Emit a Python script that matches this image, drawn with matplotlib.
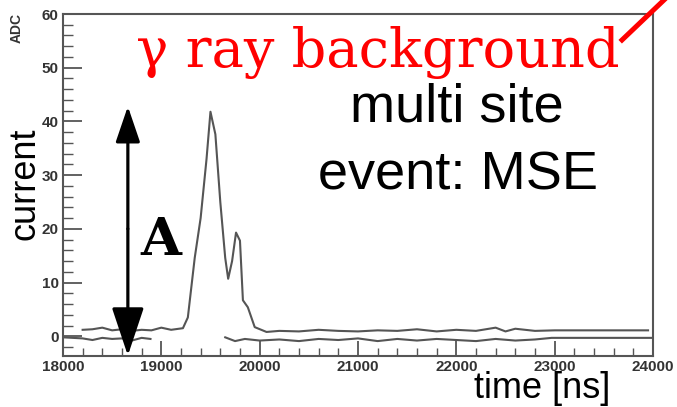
import matplotlib.pyplot as plt
from matplotlib.ticker import MultipleLocator

# signal trace (upper)
t_up = [18200, 18300, 18400, 18500, 18600, 18700, 18800, 18900, 19000, 19100, 19220, 19270,
        19340, 19400, 19460, 19500, 19550, 19600, 19650, 19680, 19720, 19760, 19800, 19830,
        19880, 19950, 20070, 20200, 20400, 20600, 20800, 21000,
        21200, 21400, 21600, 21800, 22000, 22200, 22400, 22500, 22600, 22800, 23000, 23080,
        23950]
v_up = [1.2, 1.3, 1.6, 1.1, 1.3, 1.0, 1.2, 1.1, 1.6, 1.2, 1.5, 3.5,
        14.6, 22.0, 33.0, 41.8, 37.6, 25.0, 14.6, 10.7, 14.0, 19.3, 17.8, 6.7,
        5.4, 1.7, 0.8, 1.0, 0.9, 1.2, 1.0, 0.9,
        1.1, 1.0, 1.3, 0.9, 1.2, 1.0, 1.6, 0.9, 1.4, 1.0, 1.1, 1.1,
        1.1]

# baseline trace (lower), two segments
t_lo1 = [18000, 18100, 18200, 18300, 18400, 18500, 18600, 18700, 18800, 18890]
v_lo1 = [-0.2, -0.3, -0.4, -0.7, -0.3, -0.5, -0.4, -0.8, -0.3, -0.5]
t_lo2 = [19650, 19750, 19850, 20000, 20200, 20400, 20600, 20800, 21000, 21200, 21400,
         21600, 21800, 22000, 22200, 22400, 22600, 22800, 22970, 24000]
v_lo2 = [-0.2, -0.9, -0.5, -0.8, -0.6, -0.9, -0.5, -0.7, -0.4, -0.9, -0.5,
         -0.8, -0.5, -0.7, -0.9, -0.5, -0.8, -0.6, -0.3, -0.3]

fig = plt.figure(figsize=(6.77, 4.07), dpi=100)
ax = fig.add_axes([0.093, 0.125, 0.8715, 0.8406])

line_c = '#555555'
ax.plot(t_up, v_up, color=line_c, lw=1.5)
ax.plot(t_lo1, v_lo1, color=line_c, lw=1.5)
ax.plot(t_lo2, v_lo2, color=line_c, lw=1.5)

ax.set_xlim(18000, 24000)
ax.set_ylim(-3.7, 60)
ax.xaxis.set_major_locator(MultipleLocator(1000))
ax.xaxis.set_minor_locator(MultipleLocator(200))
ax.yaxis.set_major_locator(MultipleLocator(10))
ax.yaxis.set_minor_locator(MultipleLocator(2))
ax.tick_params(which='major', direction='in', length=14, width=1.3, color=line_c,
               labelsize=11, labelcolor='#333333', pad=3)
ax.tick_params(which='minor', direction='in', length=7, width=1.0, color=line_c)
ax.tick_params(axis='x', which='major', length=11)
ax.tick_params(axis='x', which='minor', length=6)
for lab in ax.get_xticklabels() + ax.get_yticklabels():
    lab.set_fontweight('bold')
    lab.set_family('Liberation Sans')
for sp in ax.spines.values():
    sp.set_color(line_c)
    sp.set_linewidth(1.5)

fig.text(17 / 677, 1 - 28 / 407, 'ADC', rotation=90, fontsize=10, fontweight='bold',
         family='Liberation Sans', color='#333333', ha='center', va='center')
fig.text(25 / 677, 1 - 184 / 407, 'current', rotation=90, fontsize=26,
         family='Liberation Sans', ha='center', va='center')
fig.text(542 / 677, 1 - 398 / 407, 'time [ns]', fontsize=26, family='Liberation Sans',
         ha='center', va='baseline')

fig.text(457 / 677, 1 - 122 / 407, 'multi site', fontsize=39, family='Liberation Sans',
         ha='center', va='baseline')
fig.text(458 / 677, 1 - 190 / 407, 'event: MSE', fontsize=39, family='Liberation Sans',
         ha='center', va='baseline')
fig.text(378 / 677, 1 - 67 / 407, 'γ ray background', fontsize=39, family='DejaVu Serif',
         color='red', ha='center', va='baseline')
fig.text(161 / 677, 1 - 255 / 407, 'A', fontsize=38, family='DejaVu Serif',
         fontweight='bold', ha='center', va='baseline')

# amplitude arrow, drawn as two halves from the middle
ax.annotate('', xy=(18660, 42.8), xytext=(18660, 20),
            arrowprops=dict(arrowstyle='-|>,head_length=22,head_width=7.5',
                            color='black', lw=2.3, mutation_scale=1,
                            shrinkA=0, shrinkB=0),
            annotation_clip=False)
ax.annotate('', xy=(18660, -3.6), xytext=(18660, 20),
            arrowprops=dict(arrowstyle='-|>,head_length=30,head_width=10',
                            color='black', lw=2.3, mutation_scale=1,
                            shrinkA=0, shrinkB=0),
            annotation_clip=False)

# red pointer line
fig.add_artist(plt.Line2D([622 / 677, 664 / 677], [1 - 40 / 407, 1 - 0 / 407],
                          color='red', lw=3.6))

fig.savefig('out.png', dpi=100)
